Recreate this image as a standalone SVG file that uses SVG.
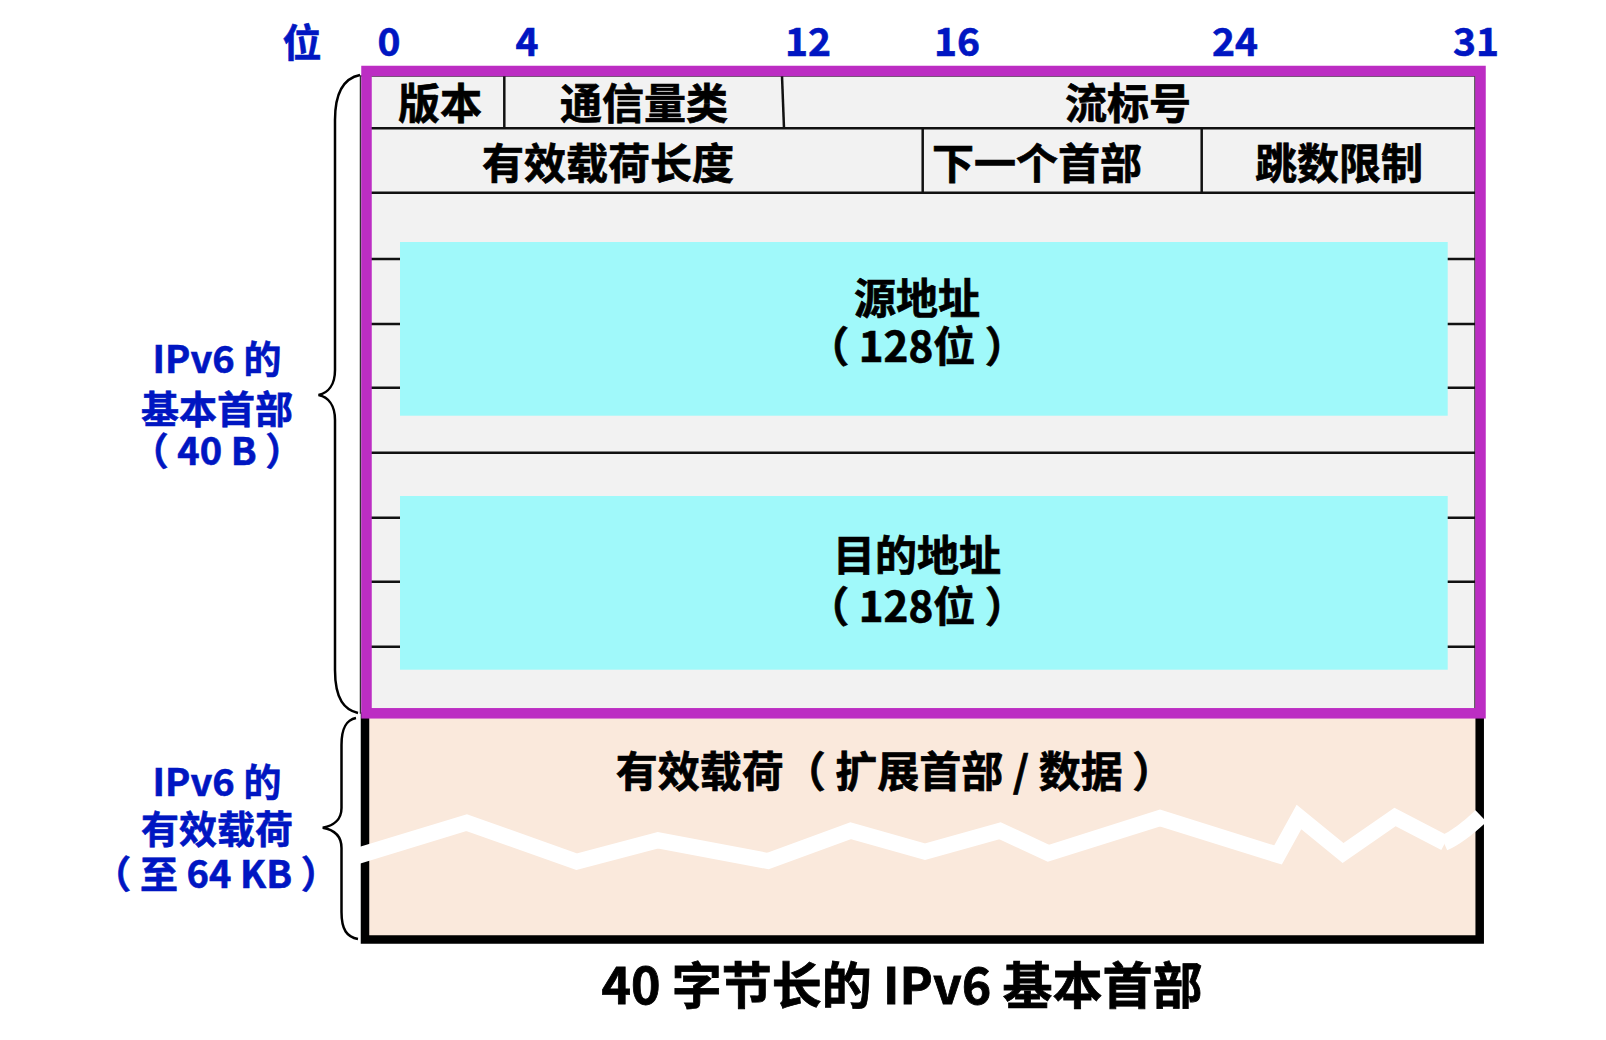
<svg xmlns="http://www.w3.org/2000/svg" width="1606" height="1040" viewBox="0 0 1606 1040">
<style>
.t{font-family:"Noto Sans CJK SC","Noto Sans",sans-serif;font-weight:bold;text-anchor:middle}
.blk{fill:#000;stroke:#000;stroke-width:0.7;font-size:42px}
.blu{fill:#0016C2;stroke:#0016C2;stroke-width:0.6}
.bit{font-size:39px}
.side{font-size:38px}
.ln{stroke:#111;stroke-width:2.5;fill:none}
.cy{fill:#A0F9FA}
.brace{fill:none;stroke:#000;stroke-width:2.5}
</style>
<rect width="1606" height="1040" fill="#fff"/>

<g id="bit-labels" class="t blu bit">
<text x="302" y="57">位</text>
<text x="389" y="56">0</text>
<text x="527" y="56">4</text>
<text x="808" y="56">12</text>
<text x="957" y="56">16</text>
<text x="1235" y="56">24</text>
<text x="1476" y="56">31</text>
</g>

<g id="payload">
<rect x="365" y="713" width="1114.7" height="226.5" fill="#FAE9DC" stroke="#000" stroke-width="8.5"/>
<polyline points="354,857 466.7,822.7 576.7,861.7 658,840.3 768,861 850.7,830.7 925,851.7 1000,830.7 1048.3,853.3 1160,818 1278,855 1299,817 1343,853 1395,817 1445,843" fill="none" stroke="#fff" stroke-width="16" stroke-linejoin="miter"/>
<path d="M1444,843 Q1460,836 1481,816" fill="none" stroke="#fff" stroke-width="16"/>
<text class="t blk" x="895" y="787">有效载荷（ 扩展首部 / 数据 ）</text>
</g>

<g id="header">
<rect x="360.5" y="76" width="1114.5" height="637" fill="#F2F2F2" stroke="#333" stroke-width="1.5"/>
<line class="ln" x1="371" y1="128.3" x2="1475" y2="128.3"/>
<line class="ln" x1="371" y1="192.7" x2="1475" y2="192.7"/>
<line class="ln" x1="504.3" y1="76" x2="504.3" y2="128.3"/>
<line class="ln" x1="782" y1="76" x2="784" y2="128.3"/>
<line class="ln" x1="922.7" y1="128.3" x2="922.7" y2="192.7"/>
<line class="ln" x1="1201.7" y1="128.3" x2="1201.7" y2="192.7"/>
<line class="ln" x1="371" y1="259" x2="1475" y2="259"/>
<line class="ln" x1="371" y1="324" x2="1475" y2="324"/>
<line class="ln" x1="371" y1="387.7" x2="1475" y2="387.7"/>
<line class="ln" x1="371" y1="452.7" x2="1475" y2="452.7"/>
<line class="ln" x1="371" y1="517.7" x2="1475" y2="517.7"/>
<line class="ln" x1="371" y1="581.7" x2="1475" y2="581.7"/>
<line class="ln" x1="371" y1="646.7" x2="1475" y2="646.7"/>
</g>

<g id="field-version" class="t blk"><text x="440" y="118.5">版本</text></g>
<g id="field-traffic-class" class="t blk"><text x="644" y="118.5">通信量类</text></g>
<g id="field-flow-label" class="t blk"><text x="1128" y="118.5">流标号</text></g>
<g id="field-payload-length" class="t blk"><text x="608" y="178.5">有效载荷长度</text></g>
<g id="field-next-header" class="t blk"><text x="1037" y="178.5">下一个首部</text></g>
<g id="field-hop-limit" class="t blk"><text x="1339" y="178.5">跳数限制</text></g>

<g id="field-source">
<rect class="cy" x="400" y="242" width="1047.7" height="173.7"/>
<text class="t blk" x="917" y="314">源地址</text>
<text class="t blk" x="917" y="362">（ 128位 ）</text>
</g>

<g id="field-destination">
<rect class="cy" x="400" y="496" width="1047.7" height="173.7"/>
<text class="t blk" x="917" y="571">目的地址</text>
<text class="t blk" x="917" y="622">（ 128位 ）</text>
</g>

<rect id="header-frame" x="366.5" y="71" width="1114" height="642.3" fill="none" stroke="#BC2DC3" stroke-width="10.5"/>

<g id="connectors">
<path class="brace" d="M360,75 C345,78 335,90 335,120 L335,370 C335,385 328,393 318.5,395 C328,397 335,405 335,420 L335,670 C335,700 345,710 358,713"/>
<path class="brace" d="M356,718 C346,720 341.5,728 341.5,745 L341.5,808 C341.5,820 333,826 322.7,827.7 C333,829.5 341.5,835 341.5,848 L341.5,912 C341.5,930 347,937 358,939"/>
</g>

<g id="label-header" class="t blu side">
<text x="217" y="373">IPv6 的</text>
<text x="217" y="423">基本首部</text>
<text x="217" y="465">（ 40 B ）</text>
</g>

<g id="label-payload" class="t blu side">
<text x="217" y="796">IPv6 的</text>
<text x="217" y="843">有效载荷</text>
<text x="216" y="888">（ 至 64 KB ）</text>
</g>

<g id="caption" class="t"><text x="902" y="1004" font-size="50" fill="#000" stroke="#000" stroke-width="0.8">40 字节长的 IPv6 基本首部</text></g>
</svg>
